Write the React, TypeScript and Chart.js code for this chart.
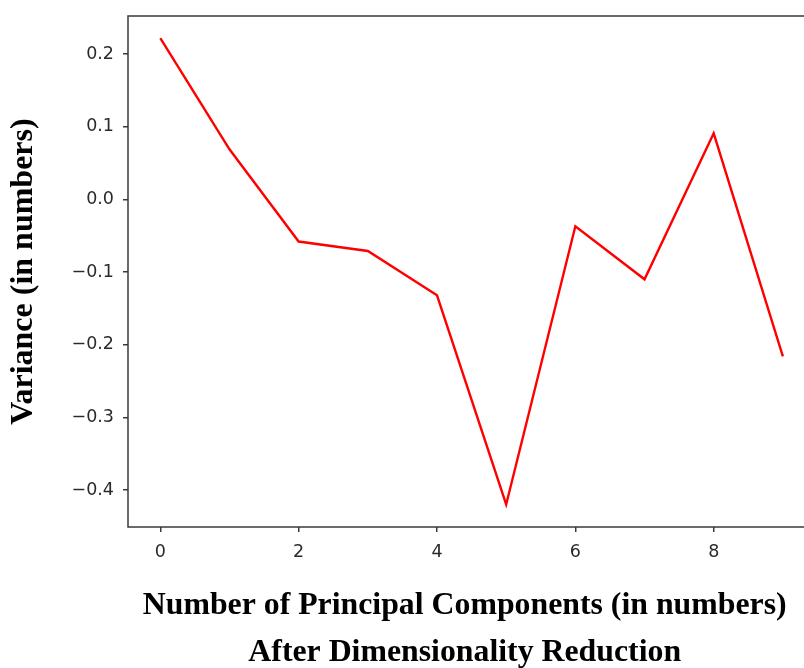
import React, { useEffect, useRef } from "react";
import { Chart, registerables } from "chart.js";

Chart.register(...registerables);

const components = [0, 1, 2, 3, 4, 5, 6, 7, 8, 9];
const variance = [0.222, 0.069, -0.058, -0.071, -0.132, -0.42, -0.037, -0.110, 0.091, -0.216];
const xTicks = [0, 2, 4, 6, 8];
const yTicks = [-0.4, -0.3, -0.2, -0.1, 0.0, 0.1, 0.2];
const xTitle = ["Number of Principal Components (in numbers)", "After Dimensionality Reduction"];
const yTitle = "Variance (in numbers)";

const AXIS_COLOR = "#3a3a3a";

const boxPlugin = {
  id: "boxPlugin",
  afterLayout(chart: any) {
    // shift the x-axis title centre slightly left (title is centred on the visible part)
    const xs = chart.scales.x;
    if (xs) xs.right -= 12.6;
  },
  afterDatasetsDraw(chart: any) {
    const { ctx, chartArea } = chart;
    ctx.save();
    ctx.strokeStyle = AXIS_COLOR;
    ctx.lineWidth = 1.5;
    ctx.strokeRect(chartArea.left, chartArea.top, chartArea.right - chartArea.left, chartArea.bottom - chartArea.top);
    ctx.restore();
  },
};

export default function App() {
  const ref = useRef<HTMLCanvasElement | null>(null);
  useEffect(() => {
    if (!ref.current) return;
    const tickFont = { family: "DejaVu Sans", size: 17.5 };
    const chart = new Chart(ref.current, {
      type: "line",
      data: {
        datasets: [
          {
            data: components.map((c, i) => ({ x: c, y: variance[i] })),
            borderColor: "#ff0000",
            borderWidth: 2.4,
            pointRadius: 0,
            tension: 0,
            fill: false,
          },
        ],
      },
      options: {
        animation: false,
        responsive: false,
        devicePixelRatio: 1,
        layout: { padding: { top: 16, right: 16, bottom: 4, left: 0 } },
        plugins: { legend: { display: false }, tooltip: { enabled: false } },
        scales: {
          x: {
            type: "linear",
            min: -0.467,
            max: 9.45,
            afterBuildTicks: (s: any) => {
              s.ticks = xTicks.map((v) => ({ value: v }));
            },
            afterFit: (s: any) => {
              s.height = 149;
              s.paddingLeft = 0;
              s.paddingRight = 0;
            },
            ticks: {
              font: tickFont,
              color: "#2a2a2a",
              padding: 10,
              maxRotation: 0,
              autoSkip: false,
              callback: (v: any) => String(v),
            },
            grid: { display: true, drawOnChartArea: false, drawTicks: true, tickLength: 5, color: AXIS_COLOR, lineWidth: 1.5 },
            border: { display: false },
            title: {
              display: true,
              text: xTitle,
              color: "#000",
              font: { family: "Liberation Serif", weight: "bold", size: 31.8, lineHeight: 1.478 },
              padding: 0,
            },
          },
          y: {
            type: "linear",
            min: -0.451,
            max: 0.2525,
            afterBuildTicks: (s: any) => {
              s.ticks = yTicks.map((v) => ({ value: v }));
            },
            afterFit: (s: any) => {
              s.width = 128;
              s.paddingTop = 0;
              s.paddingBottom = 0;
            },
            ticks: {
              font: tickFont,
              color: "#2a2a2a",
              padding: 9,
              autoSkip: false,
              callback: (v: any) => {
                const n = Number(v);
                const s = Math.abs(n).toFixed(1);
                return n < -1e-9 ? "\u2212" + s : s;
              },
            },
            grid: { display: true, drawOnChartArea: false, drawTicks: true, tickLength: 5, color: AXIS_COLOR, lineWidth: 1.5 },
            border: { display: false },
            title: {
              display: true,
              text: yTitle,
              color: "#000",
              font: { family: "Liberation Serif", weight: "bold", size: 32, lineHeight: 1.2 },
              padding: { top: 4.3, bottom: 0 },
            },
          },
        },
      },
      plugins: [boxPlugin],
    });
    return () => chart.destroy();
  }, []);
  return (
    <div style={{ position: "fixed", left: 0, top: 0, width: 804, height: 668, overflow: "hidden", background: "#fff" }}>
      <canvas ref={ref} width={830} height={680} style={{ display: "block", width: 830, height: 680 }} />
    </div>
  );
}
